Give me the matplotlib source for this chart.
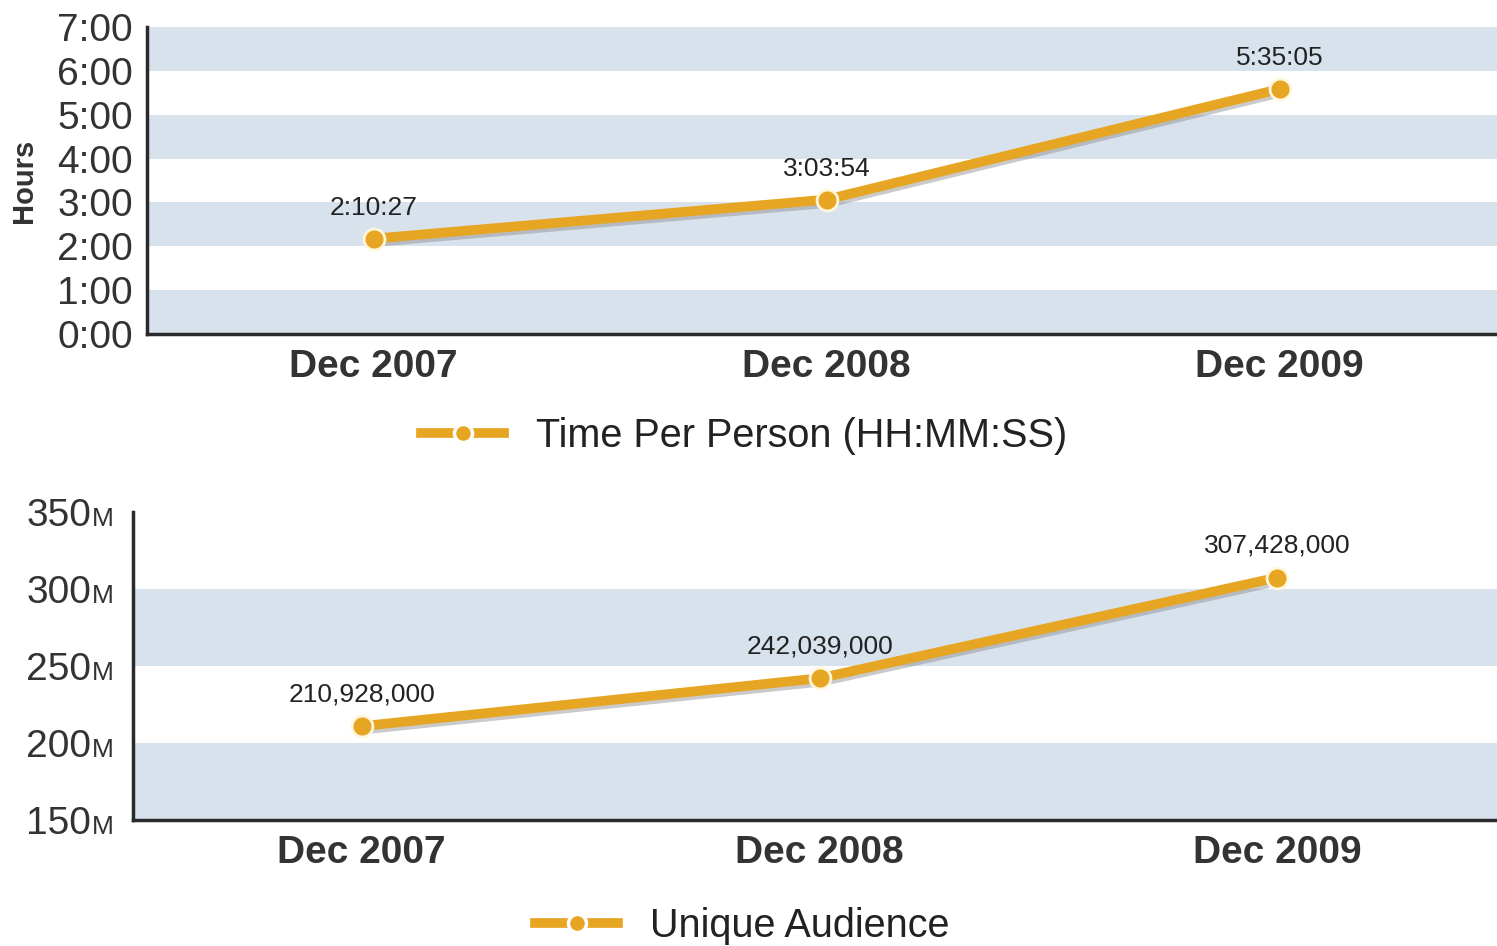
import matplotlib
matplotlib.use("Agg")
import matplotlib.pyplot as plt
import matplotlib.patheffects as pe
from matplotlib.lines import Line2D

plt.rcParams['font.family'] = ['Liberation Sans', 'DejaVu Sans']

categories = ["Dec 2007", "Dec 2008", "Dec 2009"]
time_labels = ["2:10:27", "3:03:54", "5:35:05"]
time_hours = [2 + 10/60 + 27/3600, 3 + 3/60 + 54/3600, 5 + 35/60 + 5/3600]
time_ticks = [0, 1, 2, 3, 4, 5, 6, 7]
time_tick_labels = ["0:00", "1:00", "2:00", "3:00", "4:00", "5:00", "6:00", "7:00"]

audience = [210928000, 242039000, 307428000]
aud_ticks = [150, 200, 250, 300, 350]

LINE = '#E6A623'
BAND = '#D8E2ED'
SPINE = '#2a2a2a'
TXT = '#333333'

fig = plt.figure(figsize=(14.97, 9.46), dpi=100)
ax1 = fig.add_axes([0.0982, 0.6469, 1 - 0.0982, 0.9715 - 0.6469])
ax2 = fig.add_axes([0.0888, 0.1332, 1 - 0.0888, 0.4588 - 0.1332])

x = list(range(len(categories)))
effects = [pe.SimpleLineShadow(offset=(0.5, -2.5), shadow_color='#8a8a8a', alpha=0.45), pe.Normal()]


def style(ax):
    for s in ['top', 'right']:
        ax.spines[s].set_visible(False)
    for s in ['left', 'bottom']:
        ax.spines[s].set_color(SPINE)
        ax.spines[s].set_linewidth(2.5)
        ax.spines[s].set_zorder(5)
    ax.tick_params(length=0)
    ax.set_xticks(x)
    ax.set_xticklabels(categories, fontsize=28, fontweight='bold', color=TXT)
    ax.tick_params(axis='x', pad=11)


# Top chart
for lo in [0, 2, 4, 6]:
    ax1.axhspan(lo, lo + 1, color=BAND, lw=0, zorder=0)
ax1.plot(x, time_hours, color=LINE, lw=7, solid_capstyle='round', zorder=3, path_effects=effects)
ax1.plot(x, time_hours, 'o', ms=15, mfc=LINE, mec='#fff6dc', mew=2, zorder=4)
for xi, yi, lab in zip(x, time_hours, time_labels):
    ax1.annotate(lab, (xi, yi), xytext=(0, 22), textcoords='offset points',
                 ha='center', va='center', fontsize=19, color='#222222', zorder=6)
ax1.set_xlim(-0.5, 2.48)
ax1.set_ylim(0, 7)
ax1.set_yticks(time_ticks)
ax1.set_yticklabels(time_tick_labels, fontsize=28, color=TXT)
ax1.tick_params(axis='y', pad=10)
ax1.set_ylabel("Hours", fontsize=21, fontweight='bold', color=TXT, labelpad=14)
style(ax1)

# Bottom chart
for lo in [150, 250]:
    ax2.axhspan(lo, lo + 50, color=BAND, lw=0, zorder=0)
aud_m = [v / 1e6 for v in audience]
ax2.plot(x, aud_m, color=LINE, lw=7, solid_capstyle='round', zorder=3, path_effects=effects)
ax2.plot(x, aud_m, 'o', ms=15, mfc=LINE, mec='#fff6dc', mew=2, zorder=4)
for xi, yi, v in zip(x, aud_m, audience):
    ax2.annotate(f"{v:,}", (xi, yi), xytext=(0, 23), textcoords='offset points',
                 ha='center', va='center', fontsize=19, color='#222222', zorder=6)
ax2.set_xlim(-0.5, 2.48)
ax2.set_ylim(150, 350)
ax2.set_yticks(aud_ticks)
ax2.set_yticklabels([])
for t in aud_ticks:
    ax2.annotate("M", (0, t), xycoords=('axes fraction', 'data'), xytext=(-14, -10),
                 textcoords='offset points', ha='right', va='baseline', fontsize=19,
                 color=TXT, annotation_clip=False)
    ax2.annotate(str(t), (0, t), xycoords=('axes fraction', 'data'), xytext=(-30, -10),
                 textcoords='offset points', ha='right', va='baseline', fontsize=28,
                 color=TXT, annotation_clip=False)
style(ax2)

# Legends
h1 = Line2D([0], [0], color=LINE, lw=7, marker='o', ms=13, mfc=LINE, mec='white', mew=2.5)
fig.legend([h1], ["Time Per Person (HH:MM:SS)"], loc='center', bbox_to_anchor=(0.497, 0.539),
           frameon=False, fontsize=28.5, handlelength=2.1, handletextpad=0.8, labelcolor='#222222')
h2 = Line2D([0], [0], color=LINE, lw=7, marker='o', ms=13, mfc=LINE, mec='white', mew=2.5)
fig.legend([h2], ["Unique Audience"], loc='center', bbox_to_anchor=(0.496, 0.021),
           frameon=False, fontsize=28.5, handlelength=2.1, handletextpad=0.8, labelcolor='#222222')

fig.savefig("out.png", dpi=100)
